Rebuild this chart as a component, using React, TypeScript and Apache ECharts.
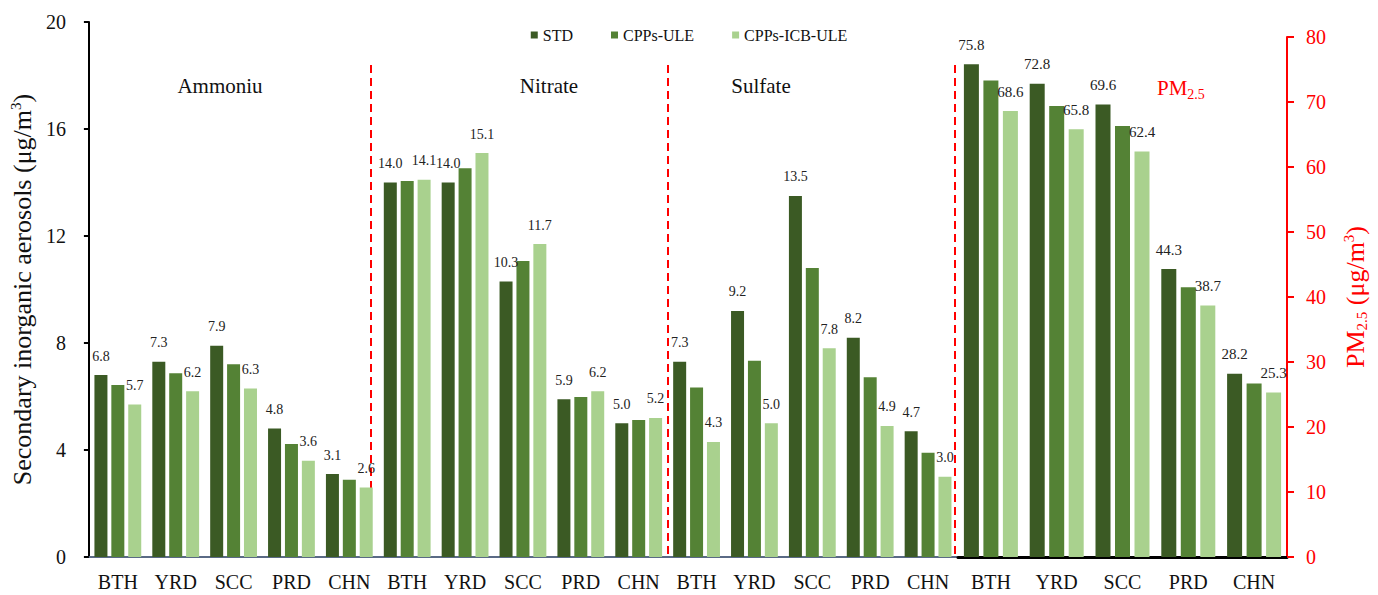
import React, { useEffect, useRef } from "react";
import * as echarts from "echarts";

const regions = ["BTH", "YRD", "SCC", "PRD", "CHN"];
const seriesNames = ["STD", "CPPs-ULE", "CPPs-ICB-ULE"];
const colors = ["#3B5A24", "#548235", "#A9D18E"];

const ammoniumSTD = [6.8, 7.3, 7.9, 4.8, 3.1];
const ammoniumULE = [6.43, 6.87, 7.21, 4.22, 2.89];
const ammoniumICB = [5.7, 6.2, 6.3, 3.6, 2.6];
const nitrateSTD = [14.0, 14.0, 10.3, 5.9, 5.0];
const nitrateULE = [14.06, 14.53, 11.07, 5.98, 5.12];
const nitrateICB = [14.1, 15.1, 11.7, 6.2, 5.2];
const sulfateSTD = [7.3, 9.2, 13.5, 8.2, 4.7];
const sulfateULE = [6.34, 7.34, 10.8, 6.72, 3.9];
const sulfateICB = [4.3, 5.0, 7.8, 4.9, 3.0];
const pmSTD = [75.8, 72.8, 69.6, 44.3, 28.2];
const pmULE = [73.3, 69.4, 66.3, 41.5, 26.7];
const pmICB = [68.6, 65.8, 62.4, 38.7, 25.3];

const panelTitles = ["Ammoniu", "Nitrate", "Sulfate"];
const leftTicks = { min: 0, max: 20, interval: 4 };
const rightTicks = { min: 0, max: 80, interval: 10 };

const FONT = "'Liberation Serif', 'Times New Roman', serif";

export default function App() {
  const ref = useRef<HTMLDivElement>(null);
  useEffect(() => {
    if (!ref.current) return;
    const chart = echarts.init(ref.current, undefined, { renderer: "svg" });
    const leftCats = [...regions, ...regions, ...regions];
    const leftData = [
      [...ammoniumSTD, ...nitrateSTD, ...sulfateSTD],
      [...ammoniumULE, ...nitrateULE, ...sulfateULE],
      [...ammoniumICB, ...nitrateICB, ...sulfateICB],
    ];
    const pmData = [pmSTD, pmULE, pmICB];
    const labelCfg = (show: boolean, size: number) => ({
      show,
      position: "top",
      distance: 12,
      fontFamily: FONT,
      fontSize: size,
      color: "#222",
      formatter: (p: any) => Number(p.value).toFixed(1),
    });
    const series: any[] = [];
    seriesNames.forEach((name, i) => {
      series.push({
        name,
        type: "bar",
        xAxisIndex: 0,
        yAxisIndex: 0,
        data: leftData[i],
        barWidth: 13,
        barGap: "30%",
        itemStyle: { color: colors[i] },
        label: labelCfg(i !== 1, 14),
      });
    });
    seriesNames.forEach((name, i) => {
      series.push({
        name,
        type: "bar",
        xAxisIndex: 1,
        yAxisIndex: 1,
        data: pmData[i],
        barWidth: 15,
        barGap: "30%",
        itemStyle: { color: colors[i] },
        label: labelCfg(i !== 1, 15),
      });
    });

    const titleX = [220, 549, 761];
    const graphics: any[] = panelTitles.map((t, i) => ({
      type: "text",
      x: titleX[i],
      y: 86,
      style: {
        text: t,
        fontFamily: FONT,
        fontSize: 21,
        fill: "#111",
        align: "center",
        verticalAlign: "middle",
      },
    }));
    graphics.push({
      type: "text",
      x: 1157,
      y: 88,
      style: {
        text: "{m|PM}{s|2.5}",
        fontFamily: FONT,
        fill: "#FF0000",
        align: "left",
        verticalAlign: "middle",
        rich: {
          m: { fontSize: 21, fontFamily: FONT, fill: "#FF0000", lineHeight: 26 },
          s: { fontSize: 14, fontFamily: FONT, fill: "#FF0000", verticalAlign: "bottom", lineHeight: 26 },
        },
      },
    });
    [371, 668, 955].forEach((x) => {
      graphics.push({
        type: "line",
        shape: { x1: x, y1: 65, x2: x, y2: 557 },
        style: { stroke: "#FF0000", lineWidth: 2, lineDash: [8, 5] },
      });
    });

    chart.setOption({
      animation: false,
      backgroundColor: "#fff",
      textStyle: { fontFamily: FONT },
      legend: {
        data: seriesNames,
        top: 22,
        left: "center",
        icon: "rect",
        itemWidth: 7,
        itemHeight: 7,
        itemGap: 38,
        textStyle: { fontFamily: FONT, fontSize: 16, color: "#111" },
      },
      grid: [
        { left: 87, right: 421, top: 22, bottom: 38 },
        { left: 958, right: 91, top: 37, bottom: 38 },
      ],
      xAxis: [
        {
          type: "category",
          gridIndex: 0,
          data: leftCats,
          axisLine: { lineStyle: { color: "#5A6A85", width: 2 } },
          axisTick: { show: false },
          axisLabel: { fontFamily: FONT, fontSize: 20, color: "#111", margin: 15, interval: 0 },
        },
        {
          type: "category",
          gridIndex: 1,
          data: regions,
          axisLine: { lineStyle: { color: "#000", width: 3 } },
          axisTick: { show: false },
          axisLabel: { fontFamily: FONT, fontSize: 20, color: "#111", margin: 15, interval: 0 },
        },
      ],
      yAxis: [
        {
          type: "value",
          gridIndex: 0,
          min: leftTicks.min,
          max: leftTicks.max,
          interval: leftTicks.interval,
          name: "Secondary inorganic aerosols (μg/m{sup|3})",
          nameLocation: "middle",
          nameRotate: 90,
          nameGap: 44,
          nameTextStyle: {
            fontFamily: FONT,
            fontSize: 26,
            color: "#111",
            rich: { sup: { fontSize: 15, fontFamily: FONT, verticalAlign: "top", lineHeight: 28, color: "#111" } },
          },
          axisLine: { show: true, lineStyle: { color: "#000", width: 2 } },
          axisTick: { show: true, length: 5, lineStyle: { color: "#000", width: 2 } },
          axisLabel: { fontFamily: FONT, fontSize: 20, color: "#111", margin: 23 },
          splitLine: { show: false },
        },
        {
          type: "value",
          gridIndex: 1,
          position: "right",
          min: rightTicks.min,
          max: rightTicks.max,
          interval: rightTicks.interval,
          name: "PM{sub|2.5} (μg/m{sup|3})",
          nameLocation: "middle",
          nameRotate: 90,
          nameGap: 54,
          nameTextStyle: {
            fontFamily: FONT,
            fontSize: 26,
            color: "#FF0000",
            rich: {
              sub: { fontSize: 15, fontFamily: FONT, verticalAlign: "bottom", lineHeight: 28, color: "#FF0000" },
              sup: { fontSize: 15, fontFamily: FONT, verticalAlign: "top", lineHeight: 28, color: "#FF0000" },
            },
          },
          axisLine: { show: true, lineStyle: { color: "#FF0000", width: 2 } },
          axisTick: { show: true, length: 7, lineStyle: { color: "#FF0000", width: 2 } },
          axisLabel: { fontFamily: FONT, fontSize: 20, color: "#FF0000", margin: 19 },
          splitLine: { show: false },
        },
      ],
      graphic: graphics,
      series,
    });
    return () => chart.dispose();
  }, []);
  return (
    <div
      ref={ref}
      style={{ position: "fixed", left: 0, top: 0, width: 1378, height: 595, background: "#fff" }}
    />
  );
}
